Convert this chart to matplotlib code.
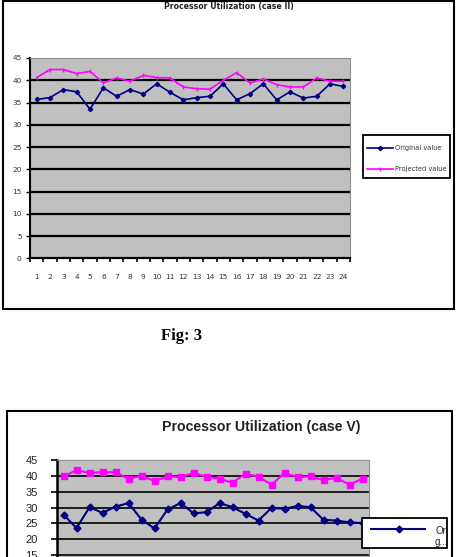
import matplotlib
matplotlib.use("Agg")
import matplotlib.pyplot as plt
from matplotlib.lines import Line2D
from matplotlib.patches import Rectangle
import numpy as np

W, H = 457, 557

# ---- data ----
categories = list(range(1, 25))
orig_case2 = [35.7, 36.1, 37.9, 37.4, 33.5, 38.3, 36.4, 37.9, 36.9, 39.2, 37.3, 35.6,
              36.1, 36.4, 39.2, 35.6, 37.0, 39.2, 35.6, 37.4, 36.0, 36.4, 39.2, 38.6]
proj_case2 = [40.6, 42.4, 42.4, 41.5, 42.0, 39.4, 40.5, 39.8, 41.1, 40.6, 40.5, 38.5,
              38.1, 38.0, 40.0, 41.7, 39.4, 40.3, 39.0, 38.5, 38.5, 40.5, 39.8, 39.8]
orig_case5 = [27.8, 23.5, 30.1, 28.3, 30.3, 31.4, 26.2, 23.4, 29.4, 31.4, 28.2, 28.5,
              31.4, 30.1, 28.0, 25.9, 29.9, 29.6, 30.5, 30.1, 26.1, 25.9, 25.3, 25.1]
proj_case5 = [39.8, 41.8, 40.9, 41.2, 41.1, 39.1, 40.0, 38.4, 39.8, 39.6, 40.9, 39.7,
              39.1, 37.8, 40.7, 39.7, 37.2, 40.9, 39.6, 39.8, 38.7, 39.4, 37.2, 39.1]
yticks = list(range(0, 50, 5))
series_names = ["Original value", "Projected value"]
title2 = "Processor Utilization (case II)"
title5 = "Processor Utilization (case V)"
caption = "Fig: 3"

NAVY = "#000080"
MAG = "#FF00FF"
SILVER = "#C0C0C0"
NARROW = ["Liberation Sans Narrow", "DejaVu Sans"]
ARIAL = ["Liberation Sans", "DejaVu Sans"]

fig = plt.figure(figsize=(W / 100, H / 100), dpi=100)


def fx(x):
    return x / W


def fy(y):
    return 1 - y / H


def rect_px(x0, y0, x1, y1):
    return [fx(x0), fy(y1), (x1 - x0) / W, (y1 - y0) / H]


# ---- frames ----
fig.add_artist(Rectangle((fx(3), fy(309)), (454 - 3) / W, (309 - 0.5) / H,
                         transform=fig.transFigure, fill=False, ec="black", lw=1.5))
fig.add_artist(Rectangle((fx(7), fy(620)), (452 - 7) / W, (620 - 411) / H,
                         transform=fig.transFigure, fill=False, ec="black", lw=1.5))

# ---- top chart ----
ax = fig.add_axes(rect_px(30, 58, 350, 258.3))
x = np.array(categories)
ax.set_facecolor(SILVER)
ax.set_xlim(0.5, 24.5)
ax.set_ylim(0, 45)
for v in yticks[1:-1]:
    ax.axhline(v, color="black", lw=1.6, zorder=1)
ax.plot(x, orig_case2, color=NAVY, lw=1.2, marker="D", ms=2.2, zorder=3)
ax.plot(x, proj_case2, color=MAG, lw=1.2, marker="|", ms=3.5, mew=1, zorder=3)
ax.set_yticks(yticks)
ax.set_yticklabels([str(v) for v in yticks], fontsize=5.3, family=NARROW, color="#333333")
ax.set_xticks(np.arange(0.5, 25, 1))
ax.set_xticklabels([])
ax.set_xticks(x, minor=True)
ax.set_xticklabels([str(c) for c in categories], minor=True, fontsize=5.3,
                   family=NARROW, color="#333333")
ax.tick_params(axis="x", which="major", direction="out", length=3, width=1.2)
ax.tick_params(axis="x", which="minor", length=0, pad=11)
ax.tick_params(axis="y", direction="out", length=3, width=1.0, pad=3)
ax.spines["left"].set_linewidth(1.5)
ax.spines["bottom"].set_linewidth(1.6)
for s in ("top", "right"):
    ax.spines[s].set_color("#909090")
    ax.spines[s].set_linewidth(0.8)
fig.text(fx(229), fy(6), title2, ha="center", va="center", fontsize=5.6,
         fontweight="bold", family=NARROW, color="#222222")

# top legend
fig.add_artist(Rectangle((fx(363), fy(178)), (450 - 363) / W, (178 - 135) / H,
                         transform=fig.transFigure, fill=True, fc="white", ec="black", lw=1.3))
for (yy, col, mk, ms, name) in [(148, NAVY, "D", 2.2, series_names[0]),
                                (169, MAG, "|", 3.5, series_names[1])]:
    fig.add_artist(Line2D([fx(367), fx(393)], [fy(yy), fy(yy)], transform=fig.transFigure,
                          color=col, lw=1.2))
    fig.add_artist(Line2D([fx(380)], [fy(yy)], transform=fig.transFigure, color=col,
                          marker=mk, ms=ms, mew=1))
    fig.text(fx(395), fy(yy), name, ha="left", va="center", fontsize=4.8,
             family=NARROW, color="#333333")

# caption
fig.text(fx(182), fy(336), caption, ha="center", va="center", fontsize=12,
         fontweight="bold", family=["Liberation Serif", "DejaVu Serif"])

# ---- bottom chart ----
ax2 = fig.add_axes(rect_px(57, 460, 369, 602.6))
ax2.set_facecolor(SILVER)
ax2.set_xlim(0.5, 24.5)
ax2.set_ylim(0, 45)
for v in yticks[1:-1]:
    ax2.axhline(v, color="black", lw=1.2, zorder=1)
ax2.plot(x, orig_case5, color=NAVY, lw=1.5, marker="D", ms=3.5, zorder=3)
ax2.plot(x, proj_case5, color=MAG, lw=1.5, marker="s", ms=4.5, zorder=3)
ax2.set_yticks(yticks)
# labels for 0-10 fall below the visible page, as in the reference crop
ax2.set_yticklabels([str(v) if v >= 15 else "" for v in yticks], fontsize=8,
                    family=ARIAL, color="#222222")
ax2.set_xticks([])
ax2.tick_params(axis="y", direction="out", length=4, width=1.2, pad=10)
ax2.spines["left"].set_linewidth(1.8)
for s in ("top", "right", "bottom"):
    ax2.spines[s].set_color("#909090")
    ax2.spines[s].set_linewidth(0.8)
fig.text(fx(261), fy(427), title5, ha="center", va="center", fontsize=10.2,
         fontweight="bold", family=ARIAL, color="#222222")

# bottom legend (truncated)
fig.add_artist(Rectangle((fx(362), fy(548)), (447 - 362) / W, (548 - 518) / H,
                         transform=fig.transFigure, fill=True, fc="white", ec="black",
                         lw=1.3, zorder=10))
fig.add_artist(Line2D([fx(371), fx(425)], [fy(529), fy(529)], transform=fig.transFigure,
                      color=NAVY, lw=1.5, zorder=11))
fig.add_artist(Line2D([fx(399)], [fy(529)], transform=fig.transFigure, color=NAVY,
                      marker="D", ms=3.5, zorder=11))
fig.text(fx(435), fy(531), "Or", ha="left", va="center", fontsize=7, family=ARIAL,
         color="#222222", zorder=12)
fig.text(fx(435), fy(542), "g...", ha="left", va="center", fontsize=7, family=ARIAL,
         color="#222222", zorder=12)

fig.savefig("out.png", dpi=100)
